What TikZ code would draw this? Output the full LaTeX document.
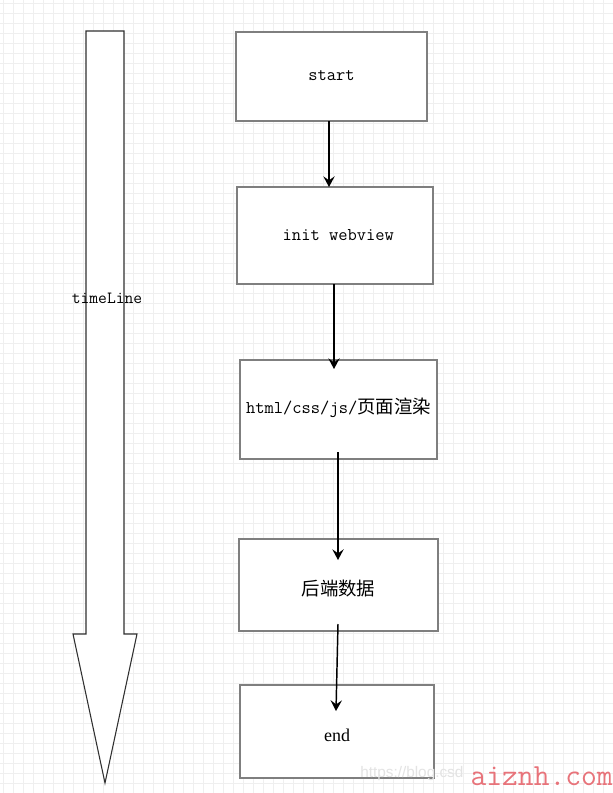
\documentclass[tikz,border=0pt]{standalone}
\usepackage{fontspec}
\newfontfamily\cjk{Noto Sans CJK SC}
\newfontfamily\serifw{Liberation Serif}
\newfontfamily\sansw{Liberation Sans}
\usetikzlibrary{arrows.meta}
\definecolor{gridc}{HTML}{EFEFEF}
\definecolor{boxc}{HTML}{7F7F7F}
\definecolor{outc}{HTML}{303030}
\definecolor{wmred}{HTML}{E8737A}
\tikzset{
  box/.style={draw=boxc, line width=1.5pt, fill=white, inner sep=0pt, font=\ttfamily\fontsize{13.5}{15}\selectfont},
  arr/.style={draw=black, line width=1.1pt, -{Stealth[length=8pt, width=8.5pt, inset=3pt]}},
}
\begin{document}
\begin{tikzpicture}[x=0.75pt, y=-0.75pt]
\useasboundingbox (0,0) rectangle (613,793);
\fill[white] (0,0) rectangle (613,793);
% grid
\foreach \i in {0,...,61} { \draw[gridc, line width=0.5pt] ({3+10*\i},0) -- ({3+10*\i},793); }
\foreach \j in {0,...,79} { \draw[gridc, line width=0.5pt] (0,{3+10*\j}) -- (613,{3+10*\j}); }

% timeline arrow
\draw[outc, line width=0.8pt, fill=white] (86,31) -- (124,31) -- (124,634) -- (137,634) -- (105,783) -- (73,634) -- (86,634) -- cycle;
\node[font=\ttfamily\fontsize{12.8}{14}\selectfont, inner sep=0pt] (tl) at (107,298) {timeLine};

% boxes
\node[box, minimum width=0.75pt*191, minimum height=0.75pt*89,
      label={[font=\ttfamily\fontsize{13.5}{15}\selectfont, yshift=0.8pt]center:start}] (start) at (331.5,76.5) {};
\node[box, minimum width=0.75pt*196, minimum height=0.75pt*97,
      label={[font=\ttfamily\fontsize{13.5}{15}\selectfont, xshift=2.5pt]center:init webview}] (init) at (335,235.5) {};
\node[box, minimum width=0.75pt*197, minimum height=0.75pt*99,
      label={[font=\ttfamily\fontsize{13.5}{15}\selectfont, yshift=1.5pt]center:html/css/js/{\cjk\fontsize{13.8}{15}\selectfont 页面渲染}}] (html) at (338.5,409.5) {};
\node[box, minimum width=0.75pt*199, minimum height=0.75pt*92,
      label={[font=\cjk\fontsize{13.8}{15}\selectfont, yshift=-2.5pt]center:后端数据}] (back) at (338.5,585) {};
\node[box, minimum width=0.75pt*194, minimum height=0.75pt*93,
      label={[font=\serifw\fontsize{13.5}{15}\selectfont, yshift=-2.8pt]center:end}] (endb) at (337,731.5) {};

% connector end points
\coordinate (a1) at (329,121);
\coordinate (a2) at (329,187);
\coordinate (b1) at (334,284);
\coordinate (b2) at (334,369);
\coordinate (c1) at (338,452);
\coordinate (c2) at (338,560);
\coordinate (d1) at (338,624);
\coordinate (d2) at (336,711);

\draw[arr] (a1) -- (a2);
\draw[arr] (b1) -- (b2);
\draw[arr] (c1) -- (c2);
\draw[arr] (d1) -- (d2);

% watermarks
\node[anchor=west, inner sep=0pt, text=gray!22, font=\sansw\fontsize{11.5}{14}\selectfont] (wm1) at (360,774) {https://blog.csd};
\node[anchor=east, inner sep=0pt, text=wmred, font=\ttfamily\fontsize{23}{25}\selectfont] (wm2) at (613,776) {aiznh.com};
\end{tikzpicture}
\end{document}
